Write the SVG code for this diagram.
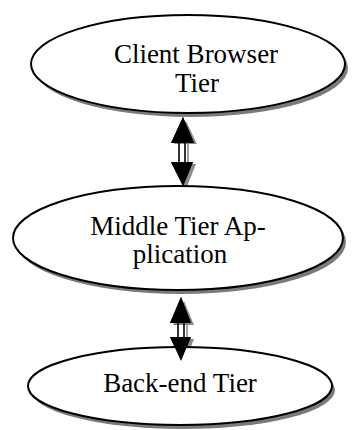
<svg xmlns="http://www.w3.org/2000/svg" width="353" height="430" viewBox="0 0 353 430">
  <style>
    .shadow { fill: #7a7a7a; stroke: none; }
    .tier { fill: #ffffff; stroke: #000000; stroke-width: 2; }
    .label { font-family: "Liberation Serif", "Times New Roman", serif; font-size: 27px; fill: #000000; text-anchor: middle; }
    .head { fill: #000000; }
    .headshadow { fill: #8a8a8a; }
    .shaft { stroke: #000000; stroke-width: 1.6; fill: none; }
    .shaftshadow { stroke: #8a8a8a; stroke-width: 1.6; fill: none; }
  </style>

  <!-- connectors: double-headed arrows with hollow shafts -->
  <g id="connectors">
    <g id="link-client-middle">
      <line class="shaftshadow" x1="188" y1="144" x2="188" y2="163"/>
      <polygon class="headshadow" points="186,121 197,144 174,144"/>
      <polygon class="headshadow" points="175,164 196,164 186,189"/>
      <line class="shaft" x1="179" y1="142" x2="179" y2="163"/>
      <line class="shaft" x1="185" y1="142" x2="185" y2="163"/>
      <polygon class="head" points="183,117 194,143 171,143"/>
      <polygon class="head" points="171,162 193,162 183,186"/>
    </g>
    <g id="link-middle-backend">
      <line class="shaftshadow" x1="187" y1="324" x2="187" y2="338"/>
      <polygon class="headshadow" points="184,301 194,325 173,325"/>
      <polygon class="headshadow" points="173,339 194,339 184,364"/>
      <line class="shaft" x1="178" y1="322" x2="178" y2="338"/>
      <line class="shaft" x1="184" y1="322" x2="184" y2="338"/>
      <polygon class="head" points="181,297 191,323 170,323"/>
      <polygon class="head" points="170,337 191,337 181,361"/>
    </g>
  </g>

  <g id="client-browser-tier">
    <ellipse class="shadow" cx="191" cy="68" rx="157" ry="49"/>
    <ellipse class="tier" cx="188" cy="64" rx="157" ry="49"/>
    <text class="label" x="196" y="63">Client Browser</text>
    <text class="label" x="197" y="92">Tier</text>
  </g>

  <g id="middle-tier-application">
    <ellipse class="shadow" cx="181" cy="242" rx="165" ry="52"/>
    <ellipse class="tier" cx="178" cy="238" rx="165" ry="52"/>
    <text class="label" x="178" y="235">Middle Tier Ap-</text>
    <text class="label" x="180" y="263">plication</text>
  </g>

  <g id="back-end-tier">
    <ellipse class="shadow" cx="183" cy="390" rx="152" ry="39"/>
    <ellipse class="tier" cx="180" cy="386" rx="152" ry="39"/>
    <text class="label" x="180" y="392">Back-end Tier</text>
  </g>

  <!-- redraw arrow tips over the ellipse outlines they touch -->
  <g id="connector-tips">
    <polygon class="head" points="183,117 194,143 171,143"/>
    <polygon class="head" points="171,162 193,162 183,186"/>
    <polygon class="head" points="181,297 191,323 170,323"/>
    <polygon class="head" points="170,337 191,337 181,361"/>
  </g>
</svg>
